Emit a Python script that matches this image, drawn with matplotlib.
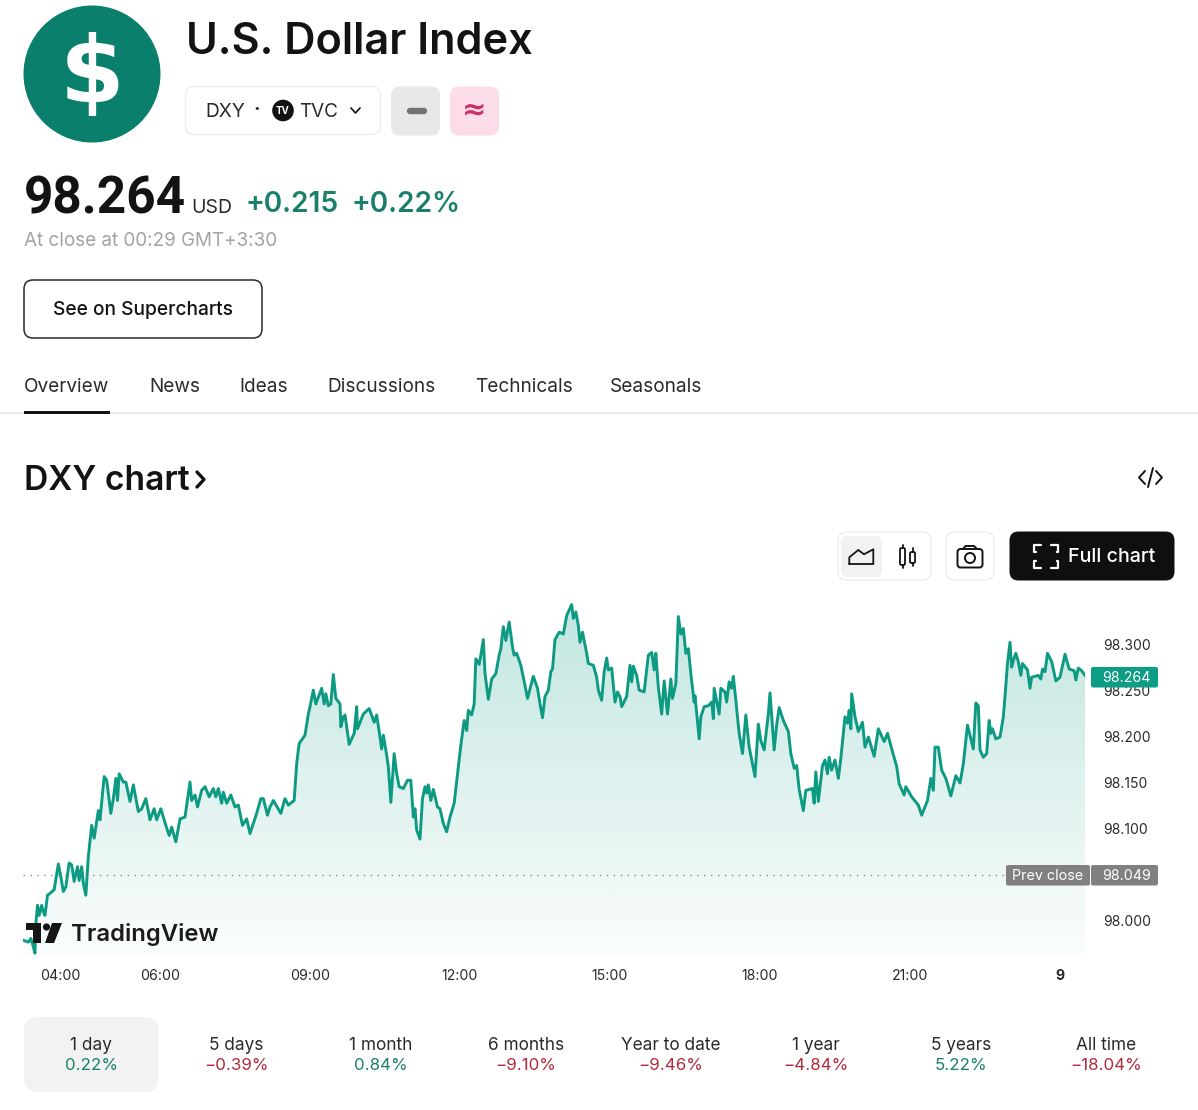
import numpy as np
import matplotlib
matplotlib.use('Agg')
import matplotlib.pyplot as plt
from matplotlib.patches import Circle, FancyBboxPatch, Polygon, Rectangle

plt.rcParams['font.family'] = ['Inter', 'DejaVu Sans']

# minutes since midnight of the session (1440 = 00:00 next day)
times = [196, 202, 205, 208, 210, 211, 213, 215, 218, 220, 222, 225, 228, 233, 238, 241, 244, 247, 251, 254,
         257, 261, 263, 266, 268, 271, 274, 278, 281, 286, 288, 293, 296, 301, 304, 307, 309, 311, 316, 319,
         324, 328, 334, 338, 343, 348, 353, 356, 361, 367, 371, 374, 379, 384, 390, 396, 398, 402, 405, 410,
         414, 419, 424, 427, 430, 434, 436, 440, 445, 450, 454, 459, 464, 468, 476, 481, 484, 489, 492, 496,
         505, 510, 514, 521, 524, 527, 534, 538, 540, 544, 547, 554, 557, 559, 562, 565, 568, 571, 576, 577,
         580, 582, 587, 593, 596, 597, 604, 611, 617, 620, 624, 626, 628, 631, 634, 637, 641, 644, 647,
         652, 657, 661, 664, 666, 668, 672, 675, 678, 680, 682, 685, 688, 693, 696, 700, 704, 708, 713, 718,
         721, 725, 728, 730, 734, 737, 739, 743, 745, 748, 750, 754, 758, 763, 767, 769, 772, 775, 779, 783,
         785, 788, 793, 798, 801, 808, 813, 816, 819, 822, 826, 829, 831, 834, 839, 844, 848, 854, 856, 859,
         862, 864, 867, 872, 874, 880, 884, 886, 890, 893, 896, 898, 902, 906, 909, 912, 914, 920, 924, 926,
         928, 932, 935, 941, 946, 950, 953, 955, 958, 962, 965, 969, 973, 975, 979, 982, 985, 988, 991, 994,
         997, 1001, 1002, 1007, 1009, 1013, 1018, 1022, 1024, 1025, 1031, 1033, 1038, 1040, 1043, 1046, 1048,
         1051, 1055, 1059, 1063, 1067, 1071, 1074, 1078, 1081, 1085, 1087, 1090, 1092, 1097, 1100, 1103, 1108,
         1114, 1117, 1121, 1124, 1127, 1132, 1135, 1143, 1145, 1147, 1150, 1155, 1158, 1161, 1163, 1166, 1170,
         1174, 1177, 1182, 1185, 1187, 1189, 1190, 1194, 1198, 1203, 1206, 1210, 1217, 1222, 1229, 1233, 1239,
         1244, 1247, 1253, 1255, 1262, 1270, 1274, 1281, 1285, 1288, 1290, 1294, 1298, 1303, 1309, 1315, 1320,
         1324, 1329, 1336, 1339, 1342, 1344, 1348, 1352, 1355, 1357, 1359, 1363, 1368, 1372, 1374, 1377, 1380,
         1382, 1384, 1387, 1390, 1393, 1395, 1401, 1404, 1406, 1414, 1417, 1419, 1422, 1425, 1430, 1435, 1440,
         1446, 1451, 1457, 1459, 1462, 1466, 1470]

prices = [97.978, 97.976, 97.980, 97.971, 97.964, 97.996, 98.016, 98.005, 98.016, 98.009, 98.005, 98.027, 98.029,
          98.033, 98.061, 98.047, 98.031, 98.036, 98.062, 98.060,
          98.042, 98.058, 98.043, 98.058, 98.040, 98.027, 98.069, 98.103, 98.089, 98.119, 98.109, 98.156, 98.152,
          98.116, 98.132, 98.154, 98.130, 98.159, 98.150, 98.150,
          98.129, 98.147, 98.118, 98.121, 98.132, 98.109, 98.121, 98.109, 98.121, 98.103, 98.092, 98.101, 98.085,
          98.110, 98.112, 98.150, 98.130, 98.136, 98.123, 98.141,
          98.145, 98.134, 98.143, 98.134, 98.143, 98.127, 98.139, 98.127, 98.136, 98.123, 98.125, 98.103, 98.110,
          98.094, 98.116, 98.132, 98.132, 98.114, 98.123, 98.130,
          98.116, 98.132, 98.125, 98.130, 98.170, 98.192, 98.201, 98.224, 98.232, 98.250, 98.235, 98.252, 98.235,
          98.246, 98.233, 98.235, 98.267, 98.241, 98.235, 98.210,
          98.221, 98.223, 98.191, 98.203, 98.232, 98.208, 98.224, 98.230, 98.215, 98.223, 98.199, 98.186, 98.201,
          98.185, 98.167, 98.128, 98.181, 98.159, 98.145,
          98.143, 98.152, 98.152, 98.112, 98.121, 98.098, 98.088, 98.132, 98.145, 98.138, 98.147, 98.130, 98.142,
          98.123, 98.121, 98.105, 98.096, 98.112, 98.127, 98.167,
          98.190, 98.217, 98.206, 98.228, 98.223, 98.235, 98.284, 98.278, 98.288, 98.305, 98.268, 98.240, 98.262,
          98.268, 98.288, 98.295, 98.319, 98.304, 98.324, 98.297,
          98.288, 98.290, 98.277, 98.255, 98.241, 98.265, 98.252, 98.235, 98.220, 98.243, 98.250, 98.270, 98.273,
          98.305, 98.313, 98.311, 98.331, 98.343, 98.328, 98.335,
          98.320, 98.302, 98.313, 98.290, 98.279, 98.277, 98.264, 98.250, 98.239, 98.270, 98.285, 98.272, 98.274,
          98.237, 98.248, 98.243, 98.232, 98.243, 98.277, 98.259,
          98.276, 98.266, 98.250, 98.248, 98.288, 98.291, 98.272, 98.290, 98.253, 98.224, 98.260, 98.224, 98.262,
          98.241, 98.257, 98.330, 98.311, 98.317, 98.290, 98.295,
          98.268, 98.237, 98.244, 98.197, 98.221, 98.232, 98.233, 98.237, 98.219, 98.252, 98.224, 98.252, 98.248,
          98.237, 98.259, 98.252, 98.265,
          98.239, 98.203, 98.181, 98.223, 98.188, 98.170, 98.156, 98.213, 98.195, 98.185, 98.201, 98.224, 98.247,
          98.185, 98.212, 98.231, 98.217,
          98.205, 98.181, 98.165, 98.168, 98.142, 98.119, 98.141, 98.143, 98.127, 98.161, 98.129, 98.168, 98.174,
          98.159, 98.177, 98.163, 98.174,
          98.154, 98.176, 98.221, 98.214, 98.228, 98.208, 98.246, 98.221, 98.205, 98.215, 98.188, 98.199, 98.178,
          98.208, 98.194, 98.203, 98.183,
          98.167, 98.148, 98.136, 98.145, 98.134, 98.125, 98.114, 98.130, 98.154, 98.141, 98.188, 98.188, 98.163,
          98.154, 98.135, 98.157, 98.149,
          98.170, 98.212, 98.186, 98.236, 98.233, 98.185, 98.177, 98.181, 98.217, 98.203, 98.208, 98.197, 98.199,
          98.221, 98.243, 98.279, 98.302,
          98.275, 98.282, 98.290, 98.281, 98.266, 98.279, 98.272, 98.252, 98.264, 98.266, 98.262, 98.273, 98.270,
          98.290, 98.281, 98.260, 98.264,
          98.289, 98.273, 98.271, 98.261, 98.274, 98.271, 98.266]

prev_close = 98.049
x_tick_pos = [240, 360, 540, 720, 900, 1080, 1260, 1440]
x_tick_labels = ['04:00', '06:00', '09:00', '12:00', '15:00', '18:00', '21:00', '9']
y_tick_pos = [98.0, 98.05, 98.1, 98.15, 98.2, 98.25, 98.3]
y_tick_labels = ['98.000', '', '98.100', '98.150', '98.200', '98.250', '98.300']

period_names = ['1 day', '5 days', '1 month', '6 months', 'Year to date', '1 year', '5 years', 'All time']
period_values = ['0.22%', '−0.39%', '0.84%', '−9.10%', '−9.46%', '−4.84%', '5.22%', '−18.04%']
nav_names = ['Overview', 'News', 'Ideas', 'Discussions', 'Technicals', 'Seasonals']

W, H = 1198, 1110
LINE = '#0d9a82'
GREEN = '#1a7f6b'
RED = '#b22a3a'
DARK = '#131313'

fig = plt.figure(figsize=(W / 100, H / 100), dpi=100, facecolor='white')

# price chart, placed on the page so that 50 px = 1 hour and 920 px = 1 point
ax = fig.add_axes([23 / W, 1 - 955 / H, (1085 - 23) / W, (955 - 600) / H])
ax.set_facecolor('none')
for s in ax.spines.values():
    s.set_visible(False)
poly = ax.fill_between(times, prices, 97.9, color='none')
ramp = np.ones((256, 1, 4))
ramp[:, :, :3] = matplotlib.colors.to_rgb('#089981')
ramp[:, 0, 3] = np.linspace(0.25, 0.02, 256)
im = ax.imshow(ramp, extent=[196, 1470, 97.962, 98.348], aspect='auto', origin='upper', zorder=1)
im.set_clip_path(poly.get_paths()[0], ax.transData)
ax.plot([196, 1006 * 1.2 + 168], [prev_close, prev_close], color='#8a8a8a', lw=1, ls=(0, (1, 4)), zorder=2)
ax.plot(times, prices, color=LINE, lw=2.1, solid_joinstyle='round', zorder=3)
ax.set_xlim(195.6, 1470)
ax.set_ylim(97.962, 98.348)
ax.set_xticks(x_tick_pos)
ax.set_xticklabels(x_tick_labels, fontsize=10.2, color='#2a2a2a')
ax.get_xticklabels()[-1].set_fontweight('bold')
ax.yaxis.tick_right()
ax.set_yticks(y_tick_pos)
ax.set_yticklabels(y_tick_labels, fontsize=10, color='#2a2a2a')
ax.tick_params(axis='x', length=0, pad=10)
ax.tick_params(axis='y', length=0, pad=13)

# everything else of the page, in page pixels
ui = fig.add_axes([0, 0, 1, 1], zorder=5)
ui.set_xlim(0, W)
ui.set_ylim(H, 0)
ui.axis('off')


def box(x, y, w, h, r, fc='white', ec='none', lw=1.0):
    ui.add_patch(FancyBboxPatch((x, y), w, h, boxstyle=f'round,pad=0,rounding_size={r}', fc=fc, ec=ec, lw=lw))


def txt(x, y, s, size, color=DARK, ha='left', weight='normal', **kw):
    ui.text(x, y, s, fontsize=size, color=color, ha=ha, va='center', fontweight=weight, **kw)


def stroke(xs, ys, color=DARK, lw=1.3):
    ui.plot(xs, ys, color=color, lw=lw, solid_capstyle='round', solid_joinstyle='round')


# header
ui.add_patch(Circle((92, 74), 68.5, fc='#0a7f6b', ec='none'))
txt(92, 77, '$', 67, color='white', ha='center', weight='bold', family='DejaVu Sans')
txt(186, 42, 'U.S. Dollar Index', 31.2, weight='semibold')
box(185.5, 86.5, 195, 48, 9, ec='#ececec')
txt(205, 112, 'DXY', 13.8, color='#2a2a2a')
txt(257, 110, '·', 14.6, color='#2a2a2a', ha='center', weight='bold')
ui.add_patch(Circle((283, 110.5), 10.8, fc=DARK, ec='none'))
txt(283, 110.5, 'TV', 7, color='white', ha='center', weight='bold')
txt(299, 112, 'TVC', 13.6, color='#2a2a2a')
stroke([351, 355.5, 360], [108, 113, 108], lw=1.2)
box(391, 86.5, 49, 49, 9, fc='#e8e8e8')
stroke([410, 424], [110.5, 110.5], color='#737373', lw=4.6)
box(450, 86.5, 49, 49, 9, fc='#fcdce8')
txt(474.5, 110, '≈', 21, color='#cc2f6a', ha='center', weight='bold', family='DejaVu Sans')

txt(24, 200, '98.264', 37, weight='bold', family='Roboto')
txt(191, 208, 'USD', 14, color='#2a2a2a')
txt(246, 205, '+0.215', 20.2, color=GREEN, weight='semibold')
txt(352, 205, '+0.22%', 20.2, color=GREEN, weight='semibold')
txt(24, 241, 'At close at 00:29 GMT+3:30', 13.6, color='#a3a3a3')

box(24, 280, 238, 58, 9, ec='#2a2a2a', lw=1.1)
txt(143, 310, 'See on Supercharts', 13.8, ha='center', weight='medium')

# navigation
for name, x in zip(nav_names, [24, 149, 239, 327, 475, 610]):
    txt(x, 387, name, 13.7, color='#2a2a2a')
ui.add_patch(Rectangle((0, 412), W, 2.2, fc='#ececec', ec='none'))
ui.add_patch(Rectangle((24, 411), 85.5, 3.4, fc=DARK, ec='none'))

# chart heading and toolbar
txt(24, 481, 'DXY chart', 24.2, weight='semibold')
stroke([197, 204, 197], [472, 479.5, 487], lw=2.4)
stroke([1145, 1139, 1145], [471, 477.5, 484], lw=1.4)
stroke([1156, 1162, 1156], [471, 477.5, 484], lw=1.4)
stroke([1153, 1148], [468, 487], lw=1.4)

box(838, 532, 93, 48, 9, ec='#ececec')
box(841, 536, 41, 41, 7, fc='#f2f2f2')
stroke([849.3, 849.3, 858.3, 864, 873.3, 873.3, 849.3], [564, 557.3, 550, 554.3, 549.3, 564, 564], lw=1.3)
box(900, 548, 5, 17, 1.5, ec=DARK, lw=1.3)
stroke([902.5, 902.5], [545, 548], lw=1.3)
stroke([902.5, 902.5], [565, 568], lw=1.3)
box(910, 552, 5, 11, 1.5, ec=DARK, lw=1.3)
stroke([912.5, 912.5], [548, 552], lw=1.3)
stroke([912.5, 912.5], [563, 566], lw=1.3)
box(946, 532, 48, 48, 9, ec='#ececec')
box(957.5, 549, 25, 18.5, 3, ec=DARK, lw=1.4)
stroke([963, 965.5, 974, 977], [549, 546, 546, 549], lw=1.4)
ui.add_patch(Circle((970, 558), 5, fc='none', ec=DARK, lw=1.4))
box(1009.5, 531.5, 165, 49, 9, fc='#0f0f0f')
for cx, sx in [(1034, 1), (1058, -1)]:
    stroke([cx + sx * 7, cx, cx, cx + sx * 1.5], [545, 545, 552, 552], color='white', lw=1.6)
    stroke([cx + sx * 7, cx, cx, cx + sx * 1.5], [568, 568, 561, 561], color='white', lw=1.6)
txt(1068, 557.5, 'Full chart', 14.2, color='white', weight='medium')

# price tags
box(1091, 667, 67, 20.5, 2, fc='#0d9c84')
txt(1126.5, 677.5, '98.264', 10.2, color='white', ha='center')
box(1006, 865, 84, 20.5, 2, fc='#808080')
txt(1048, 876, 'Prev close', 10.3, color='white', ha='center')
box(1091, 865, 67, 20.5, 2, fc='#808080')
txt(1126.5, 875.5, '98.049', 10.2, color='white', ha='center')

# logo
ui.add_patch(Polygon([(26, 923), (41, 923), (41, 943), (33, 943), (33, 930), (26, 930)], fc='#151515', ec='none'))
ui.add_patch(Circle((46.5, 927), 3.6, fc='#151515', ec='none'))
ui.add_patch(Polygon([(52, 923), (62, 923), (54, 943), (45, 943)], fc='#151515', ec='none'))
txt(71, 935, 'TradingView', 17.2, color='#1b1b1b', weight='semibold')

# period cards
box(24, 1017, 134.5, 75, 14, fc='#f2f2f2')
for i, (name, value) in enumerate(zip(period_names, period_values)):
    cx = 91 + i * 145
    col = RED if value.startswith('−') else GREEN
    txt(cx, 1045, name, 12.4, color='#2a2a2a', ha='center')
    txt(cx, 1066, value, 12.2, color=col, ha='center')

fig.savefig('out.png', dpi=100, facecolor='white')
